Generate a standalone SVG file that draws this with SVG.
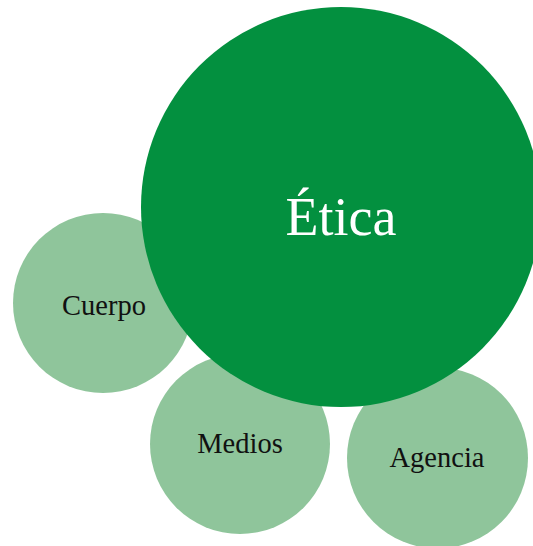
<svg xmlns="http://www.w3.org/2000/svg" width="533" height="546" viewBox="0 0 533 546">
  <style>
    .minor { fill: #8fc59b; }
    .major { fill: #03903f; }
    text { font-family: "Liberation Serif", "Times New Roman", serif; text-anchor: middle; }
    .lbl { font-size: 28.5px; fill: #111111; }
    .title { font-size: 54px; fill: #ffffff; }
  </style>
  <rect width="533" height="546" fill="#ffffff"/>
  <g id="connectors"></g>
  <g id="cuerpo">
    <circle class="minor" cx="103" cy="303" r="90"/>
    <text class="lbl" x="104" y="315">Cuerpo</text>
  </g>
  <g id="medios">
    <circle class="minor" cx="240" cy="444" r="90"/>
    <text class="lbl" x="240" y="453">Medios</text>
  </g>
  <g id="agencia">
    <circle class="minor" cx="437.5" cy="458" r="90.5"/>
    <text class="lbl" x="437" y="467">Agencia</text>
  </g>
  <g id="etica">
    <circle class="major" cx="341" cy="207" r="200"/>
    <text class="title" x="341" y="235">Ética</text>
  </g>
</svg>
